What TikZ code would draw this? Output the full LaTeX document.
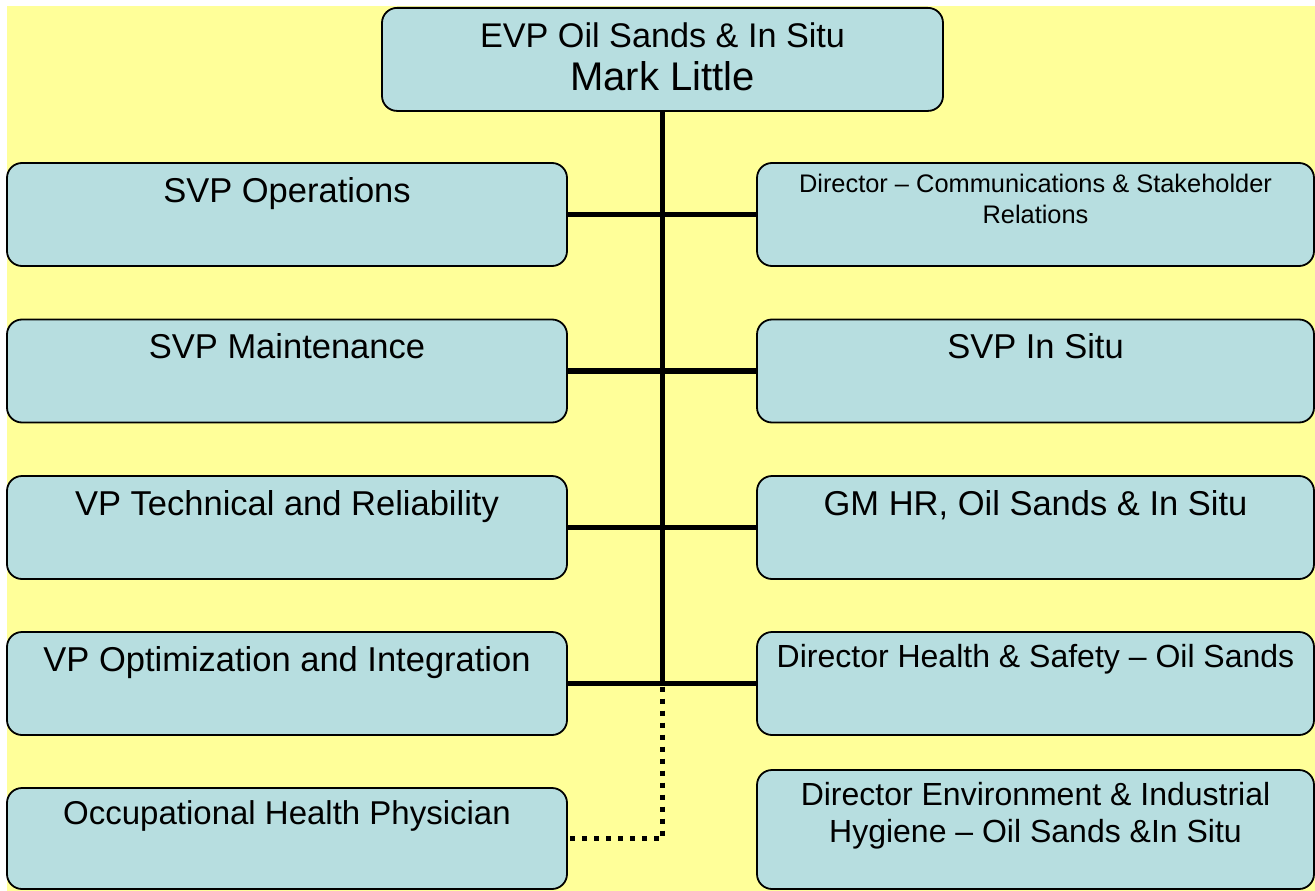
\documentclass[tikz,border=0pt]{standalone}
\usepackage{fontspec}
\setmainfont{Liberation Sans}
\definecolor{chartbg}{HTML}{FFFF99}
\definecolor{boxblue}{HTML}{B7DEE0}

\begin{document}
\begin{tikzpicture}
  [x=1pt,y=-1pt,
   post/.style={draw,line width=1.8pt,fill=boxblue,rounded corners=15pt,
     inner sep=0pt,align=center,minimum width=560pt,
     font=\fontsize{34.5}{37}\selectfont,text height=39pt,text depth=64pt},
   rpost/.style={post,minimum width=557pt},
   link/.style={line width=5.8pt},
   dotlink/.style={line width=5pt,dash pattern=on 5pt off 7pt}]
  \useasboundingbox (0,0) rectangle (1315,891);
  \fill[chartbg] (7,6) rectangle (1315,891);

  % last line sets the baseline, so text height reaches down to "Mark Little"
  \node[post,minimum width=561pt,font=\fontsize{34.2}{37}\selectfont,
    text height=83pt,text depth=20pt] (evp) at (662.5,7) [anchor=north]
    {EVP Oil Sands \& In Situ\\[6pt]{\fontsize{40}{45}\selectfont Mark Little}};

  % left column
  \node[post] (svpops)   at (287,214.5) {SVP Operations};
  \node[post] (svpmaint) at (287,371)   {SVP Maintenance};
  \node[post] (vptech)   at (287,527.5) {VP Technical and Reliability};
  \node[post] (vpopt)    at (287,683.5) {VP Optimization and Integration};
  \node[post,font=\fontsize{33}{37}\selectfont,text height=36pt,text depth=65pt]
    (occ) at (287,838.5) {Occupational Health Physician};

  % right column
  \node[rpost,font=\fontsize{25.4}{31}\selectfont,text height=60pt,text depth=43pt]
    (dircomm) at (1035.5,214.5) {Director – Communications \& Stakeholder\\Relations};
  \node[rpost] (svpinsitu) at (1035.5,371)   {SVP In Situ};
  \node[rpost] (gmhr)      at (1035.5,527.5) {GM HR, Oil Sands \& In Situ};
  \node[rpost,font=\fontsize{32}{37}\selectfont,text height=35pt,text depth=68pt]
    (dirhs) at (1035.5,683.5) {Director Health \& Safety – Oil Sands};
  \node[rpost,font=\fontsize{32}{37}\selectfont,text height=72pt,text depth=47pt]
    (direnv) at (1035.5,829.5) {Director Environment \& Industrial\\Hygiene – Oil Sands \&In Situ};

  \coordinate (hub) at (evp.south |- vpopt.east);
  \draw[link] (evp.south) -- (hub);
  \foreach \from/\to in {svpops/dircomm,svpmaint/svpinsitu,vptech/gmhr,vpopt/dirhs}
    \draw[link] (\from.east) -- (\to.west);
  \draw[dotlink] ([yshift=-3pt]hub) |- (occ.east);

\end{tikzpicture}
\end{document}
